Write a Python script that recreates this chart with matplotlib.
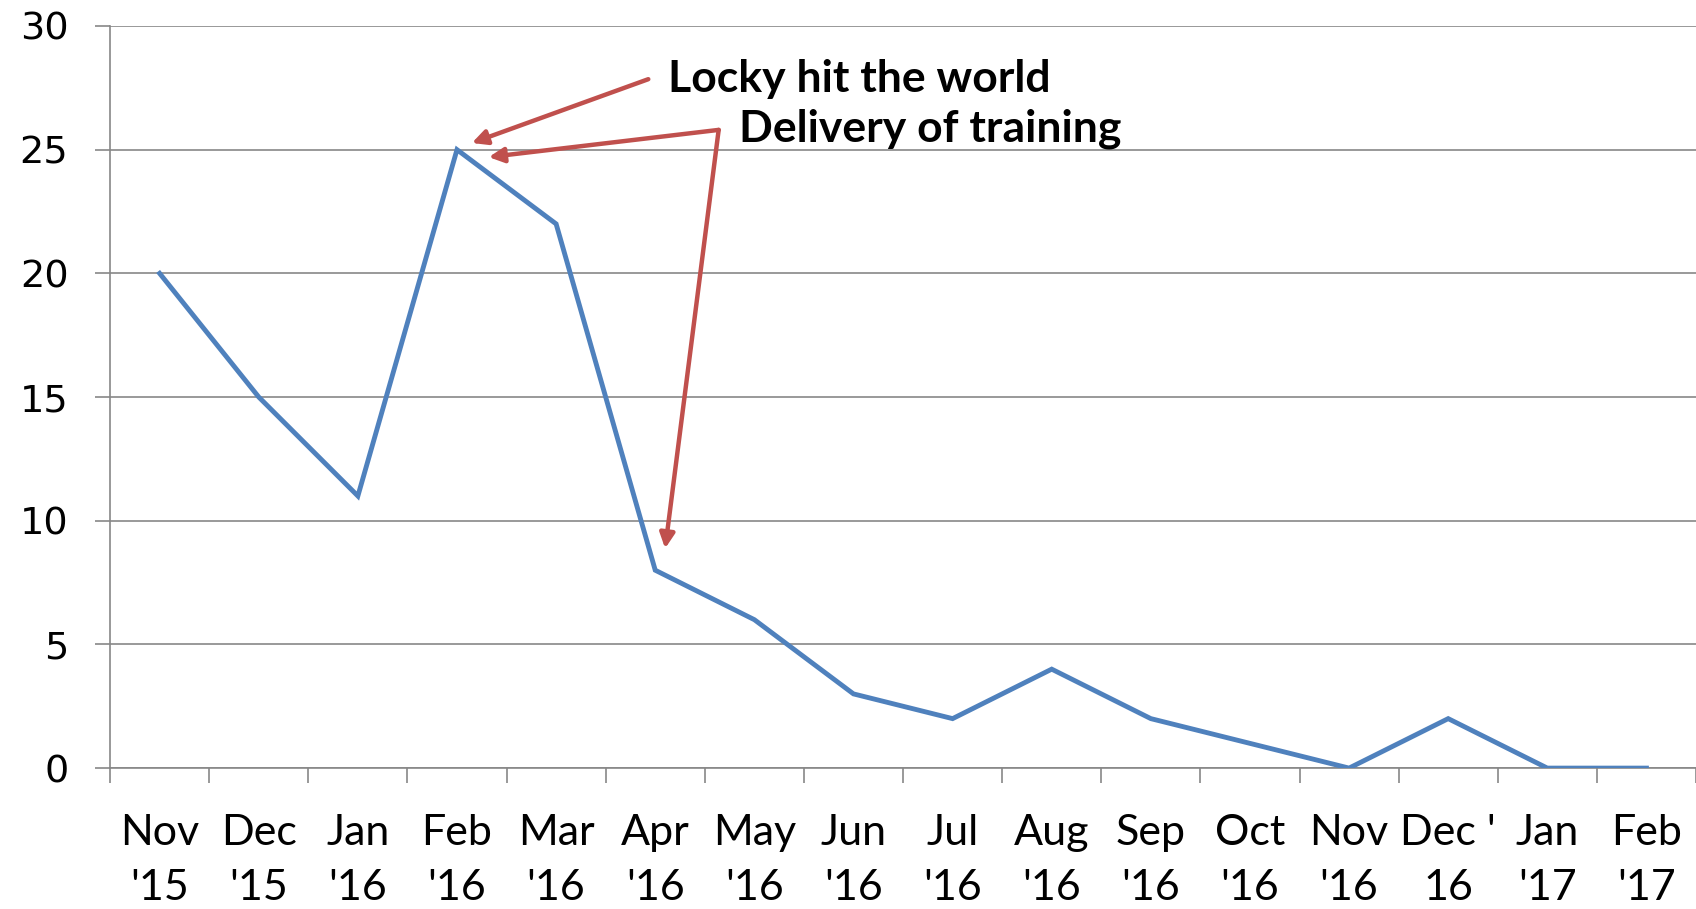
import matplotlib.pyplot as plt

# Monthly counts
months = ["Nov\n'15", "Dec\n'15", "Jan\n'16", "Feb\n'16", "Mar\n'16", "Apr\n'16",
          "May\n'16", "Jun\n'16", "Jul\n'16", "Aug\n'16", "Sep\n'16", "Oct\n'16",
          "Nov\n'16", "Dec '\n16", "Jan\n'17", "Feb\n'17"]
counts = [20, 15, 11, 25, 22, 8, 6, 3, 2, 4, 2, 1, 0, 2, 0, 0]
y_ticks = [0, 5, 10, 15, 20, 25, 30]

line_color = '#4F81BD'
arrow_color = '#C0504D'
grid_color = '#878787'

plt.rcParams['font.family'] = ['Lato', 'DejaVu Sans']

fig = plt.figure(figsize=(16.96, 9.09), dpi=100)
ax = fig.add_axes([0.0649, 0.155, 0.9351, 0.8164])

x = list(range(len(counts)))
ax.plot(x, counts, color=line_color, lw=3.5, solid_joinstyle='miter', zorder=3)

ax.set_xlim(-0.5, len(counts) - 0.5)
ax.set_ylim(0, 30)
ax.set_yticks(y_ticks)
ax.set_yticklabels([str(v) for v in y_ticks], family='DejaVu Sans', fontsize=27.5)
ax.yaxis.grid(True, color=grid_color, lw=1.2)
ax.set_axisbelow(True)

# category boundaries as tick marks, labels centred on categories
ax.set_xticks([i - 0.5 for i in range(len(counts) + 1)])
ax.set_xticklabels([])
ax.set_xticks(x, minor=True)
ax.set_xticklabels(months, minor=True, fontsize=31, linespacing=1.55)
ax.tick_params(axis='x', which='major', length=11, width=1.2, color=grid_color, direction='out')
ax.tick_params(axis='x', which='minor', length=0, pad=33)
ax.tick_params(axis='y', length=11, width=1.2, color=grid_color, pad=19)

for side in ['top', 'right']:
    ax.spines[side].set_visible(False)
ax.spines['left'].set_color(grid_color)
ax.spines['bottom'].set_color(grid_color)
ax.spines['left'].set_linewidth(1.2)
ax.spines['bottom'].set_linewidth(1.2)

arrow = dict(arrowstyle='-|>', color=arrow_color, lw=3.2, mutation_scale=22, shrinkA=0, shrinkB=0)
ax.annotate('', xy=(3.15, 25.27), xytext=(4.93, 27.85), arrowprops=arrow)
ax.annotate('', xy=(3.32, 24.7), xytext=(5.64, 25.8), arrowprops=arrow)
ax.annotate('', xy=(5.10, 8.88), xytext=(5.64, 25.8), arrowprops=arrow)

ax.text(5.13, 27.85, 'Locky hit the world', fontsize=32, fontweight='bold', va='center', ha='left')
ax.text(5.85, 25.85, 'Delivery of training', fontsize=32, fontweight='bold', va='center', ha='left')

fig.savefig('out.png', dpi=100)
